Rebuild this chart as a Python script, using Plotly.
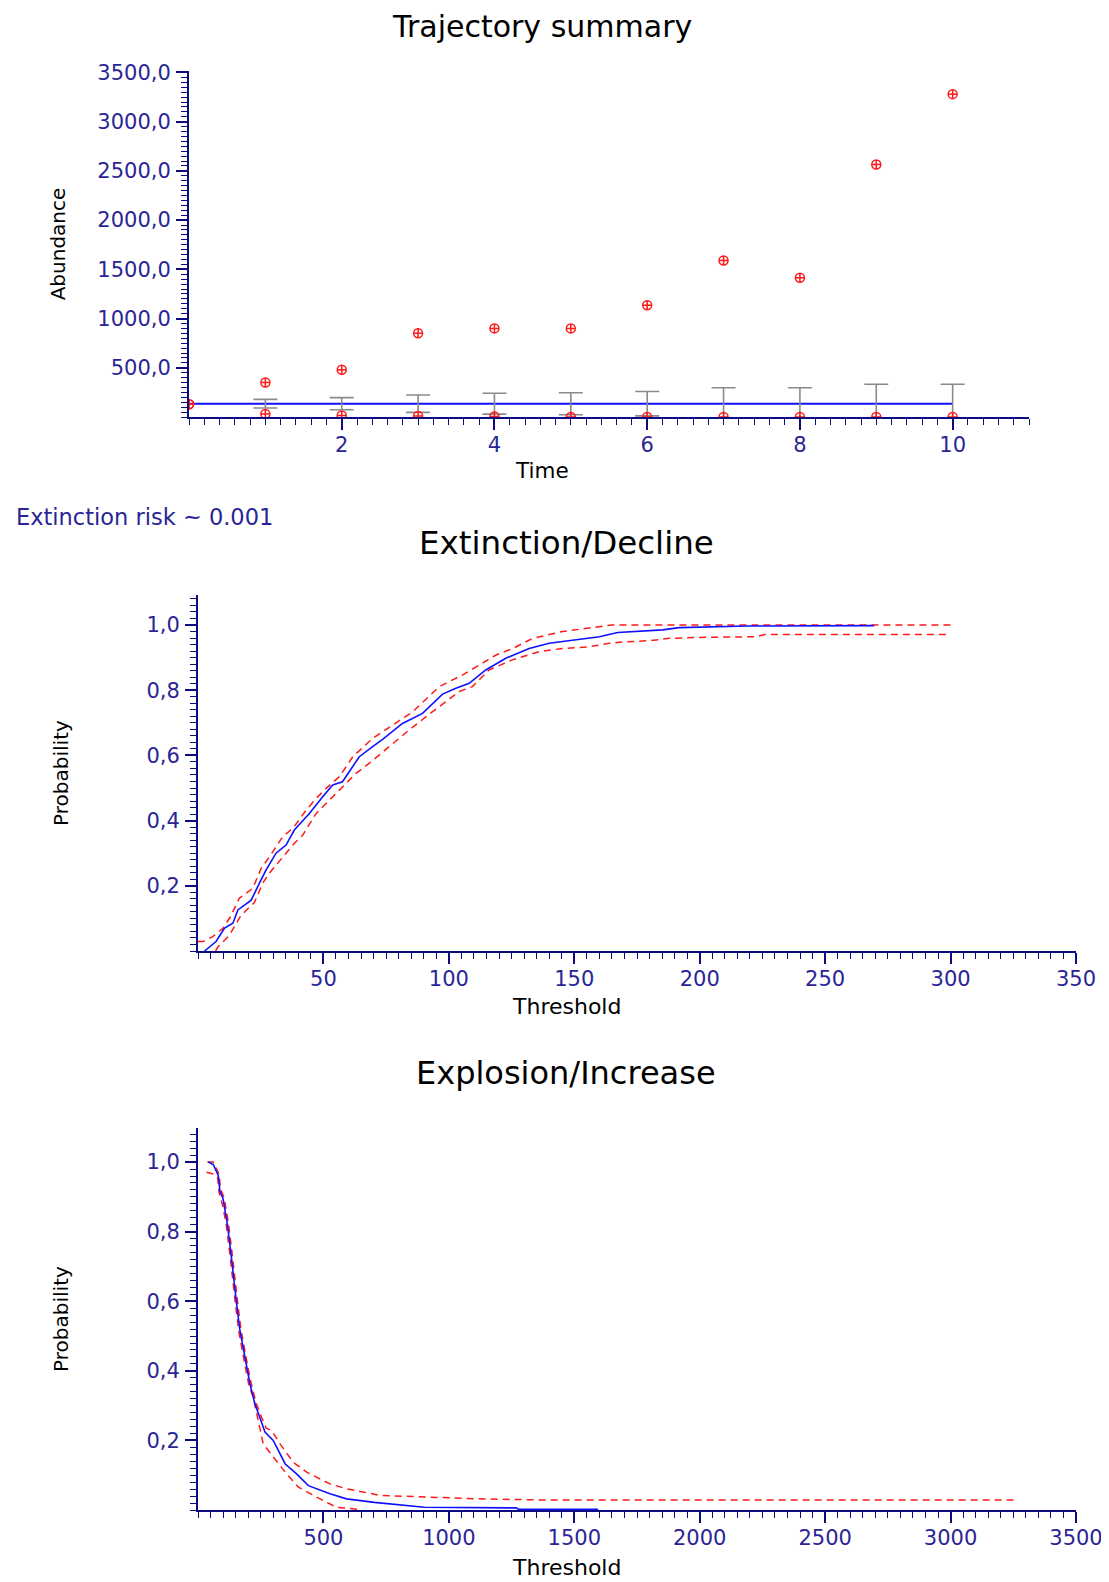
import plotly.graph_objects as go

# ---------------- data ----------------
# Trajectory summary
time = [0, 1, 2, 3, 4, 5, 6, 7, 8, 9, 10]
abund_max = [130, 350, 480, 850, 900, 900, 1135, 1590, 1415, 2565, 3280]
abund_min = [130, 30, 15, 10, 5, 0, 0, 0, 0, 0, 0]
abund_mean = [135, 135, 135, 135, 135, 135, 135, 135, 135, 135, 135]
abund_sd = [0, 44, 62, 88, 106, 112, 124, 162, 162, 197, 197]
traj_xticks = [2, 4, 6, 8, 10]
traj_yticks = [500, 1000, 1500, 2000, 2500, 3000, 3500]
traj_yticktext = ["500,0", "1000,0", "1500,0", "2000,0", "2500,0", "3000,0", "3500,0"]

# Extinction / Decline
dec_thr = [2.6, 7.2, 10.6, 13.9, 15.9, 21.2, 24.5, 27.1, 31.1, 35.1, 38.4, 44.4, 49.7, 53.7, 57.6,
           64.3, 69.6, 73.6, 81.5, 89.5, 97.5, 102.8, 108.1, 114.7, 122.7, 132, 140, 151.9, 160,
           167.3, 179.2, 185.2, 191.8, 219, 269.5]
dec_prob = [0.0, 0.029, 0.07, 0.085, 0.126, 0.156, 0.208, 0.248, 0.30, 0.325, 0.371, 0.422, 0.473,
            0.509, 0.519, 0.596, 0.627, 0.649, 0.698, 0.729, 0.788, 0.806, 0.821, 0.862, 0.898,
            0.928, 0.944, 0.956, 0.964, 0.977, 0.982, 0.985, 0.992, 0.997, 0.998]
dec_up_thr = [0, 2, 5.9, 10, 12.9, 16.5, 21.8, 25.2, 28.5, 33.8, 37.8, 43.1, 47.1, 51.1, 56.4, 61.7,
              69.6, 77.6, 85.6, 96.2, 105.5, 112.1, 118.8, 125.5, 133.4, 145.3, 159.9, 165, 300]
dec_up_prob = [0.029, 0.029, 0.044, 0.07, 0.105, 0.162, 0.192, 0.254, 0.289, 0.351, 0.376, 0.432,
               0.468, 0.499, 0.535, 0.596, 0.652, 0.693, 0.734, 0.811, 0.847, 0.877, 0.908, 0.928,
               0.959, 0.980, 0.995, 1.0, 1.0]
dec_lo_thr = [7, 8, 12.5, 17.1, 22.5, 25.8, 28.5, 35.1, 37.8, 41.8, 47.1, 55.1, 63.0, 68.3, 76.3,
              84.2, 93.5, 98.8, 104.1, 109.4, 116.0, 125.3, 135.9, 145.2, 155.8, 164, 168, 180,
              188, 200, 222.4, 226, 300]
dec_lo_prob = [0.0, 0.013, 0.048, 0.109, 0.149, 0.208, 0.239, 0.300, 0.325, 0.356, 0.422, 0.484,
               0.545, 0.576, 0.627, 0.678, 0.734, 0.765, 0.796, 0.811, 0.862, 0.893, 0.918, 0.928,
               0.933, 0.944, 0.947, 0.952, 0.959, 0.962, 0.964, 0.971, 0.971]
dec_xticks = [50, 100, 150, 200, 250, 300, 350]
prob_yticks = [0.2, 0.4, 0.6, 0.8, 1.0]
prob_yticktext = ["0,2", "0,4", "0,6", "0,8", "1,0"]

# Explosion / Increase
inc_thr = [41, 61, 81, 87, 100, 117, 130, 141, 154, 167, 181, 194, 207, 227, 247, 267, 300, 327,
           347, 393, 440, 526, 592, 703, 822, 902, 1268, 1278, 1595]
inc_prob = [1.0, 0.993, 0.961, 0.918, 0.894, 0.822, 0.746, 0.669, 0.592, 0.516, 0.458, 0.410,
            0.363, 0.305, 0.267, 0.224, 0.200, 0.161, 0.133, 0.104, 0.070, 0.047, 0.032, 0.022,
            0.013, 0.008, 0.006, 0.002, 0.002]
inc_up_thr = [37, 61, 84, 90, 104, 121, 134, 145, 158, 171, 185, 198, 211, 231, 251, 272, 294, 327,
              380, 433, 526, 592, 725, 911, 1124, 1358, 3251]
inc_up_prob = [1.0, 1.0, 0.965, 0.922, 0.898, 0.826, 0.750, 0.673, 0.596, 0.520, 0.462, 0.414,
               0.367, 0.309, 0.271, 0.235, 0.228, 0.190, 0.137, 0.109, 0.075, 0.061, 0.042, 0.037,
               0.032, 0.029, 0.029]
inc_lo_thr = [34, 61, 78, 84, 100, 113, 126, 137, 150, 163, 177, 190, 203, 220, 260, 327, 353, 400,
              446, 499, 552, 639]
inc_lo_prob = [0.971, 0.966, 0.957, 0.914, 0.870, 0.818, 0.742, 0.665, 0.588, 0.512, 0.454,
               0.406, 0.359, 0.324, 0.190, 0.128, 0.104, 0.066, 0.047, 0.027, 0.008, 0.002]
inc_xticks = [500, 1000, 1500, 2000, 2500, 3000, 3500]

# ---------------- style ----------------
W, H = 1109, 1582
OFF = 8  # page body margin
FONT = "DejaVu Sans"
NAVY = "#0c0c80"
TICKC = "#2a2596"
BLUE = "#1010ff"
RED = "#ff1a1a"
DASH = "7px,5px"


def fx(p):
    return (p - OFF) / W


def fy(p):
    return 1 - (p - OFF) / H


def axis_style(**kw):
    d = dict(showline=True, linecolor=NAVY, linewidth=2, ticks="outside", tickcolor=NAVY,
             tickwidth=1.5, ticklen=11, showgrid=False, zeroline=False, automargin=False,
             tickfont=dict(family=FONT, size=21, color=TICKC),
             title_font=dict(family=FONT, size=20, color="#000000"),
             minor=dict(ticks="outside", ticklen=6, tickcolor=NAVY, tickwidth=1.2,
                        showgrid=False, tickmode="linear", tick0=0))
    for k, v in kw.items():
        if k == "minor_dtick":
            d["minor"]["dtick"] = v
        else:
            d[k] = v
    return d


def label(text, x, y, size, color="#000000", xanchor="center"):
    return dict(text=text, x=fx(x), y=fy(y), xref="paper", yref="paper",
                xanchor=xanchor, yanchor="middle", showarrow=False,
                font=dict(family=FONT, size=size, color=color))


fig = go.Figure()

# --- Trajectory summary ---
fig.add_trace(go.Scatter(x=time, y=abund_mean, mode="lines", line=dict(color=BLUE, width=2),
                         xaxis="x", yaxis="y", showlegend=False))
fig.add_trace(go.Scatter(x=time[1:], y=abund_mean[1:], mode="markers",
                         marker=dict(size=1, color="rgba(0,0,0,0)"),
                         error_y=dict(type="data", array=abund_sd[1:], visible=True,
                                      color="#8a8a8a", thickness=1.6, width=12),
                         xaxis="x", yaxis="y", showlegend=False))
fig.add_trace(go.Scatter(x=time, y=abund_max, mode="markers",
                         marker=dict(symbol="circle-cross-open", size=9, color=RED,
                                     line=dict(width=1.5, color=RED)),
                         xaxis="x", yaxis="y", showlegend=False))
fig.add_trace(go.Scatter(x=time, y=abund_min, mode="markers",
                         marker=dict(symbol="circle-cross-open", size=9, color=RED,
                                     line=dict(width=1.5, color=RED)),
                         xaxis="x", yaxis="y", showlegend=False))

# --- Extinction / Decline ---
fig.add_trace(go.Scatter(x=dec_up_thr, y=dec_up_prob, mode="lines",
                         line=dict(color=RED, width=1.5, dash=DASH),
                         xaxis="x2", yaxis="y2", showlegend=False))
fig.add_trace(go.Scatter(x=dec_lo_thr, y=dec_lo_prob, mode="lines",
                         line=dict(color=RED, width=1.5, dash=DASH),
                         xaxis="x2", yaxis="y2", showlegend=False))
fig.add_trace(go.Scatter(x=dec_thr, y=dec_prob, mode="lines", line=dict(color=BLUE, width=1.6),
                         xaxis="x2", yaxis="y2", showlegend=False))

# --- Explosion / Increase ---
fig.add_trace(go.Scatter(x=inc_up_thr, y=inc_up_prob, mode="lines",
                         line=dict(color=RED, width=1.5, dash=DASH),
                         xaxis="x3", yaxis="y3", showlegend=False))
fig.add_trace(go.Scatter(x=inc_lo_thr, y=inc_lo_prob, mode="lines",
                         line=dict(color=RED, width=1.5, dash=DASH),
                         xaxis="x3", yaxis="y3", showlegend=False))
fig.add_trace(go.Scatter(x=inc_thr, y=inc_prob, mode="lines", line=dict(color=BLUE, width=1.6),
                         xaxis="x3", yaxis="y3", showlegend=False))

fig.update_layout(
    width=W, height=H, margin=dict(l=0, r=0, t=0, b=0, autoexpand=False),
    paper_bgcolor="white", plot_bgcolor="white",
    font=dict(family=FONT, color="#000000"),
    xaxis=axis_style(domain=[fx(189), fx(1029)], anchor="y", range=[0, 11],
                     tickmode="array", tickvals=traj_xticks, minor_dtick=0.2,
                     ticklabelstandoff=-3),
    yaxis=axis_style(domain=[fy(417), fy(71)], anchor="x", range=[0, 3515],
                     tickmode="array", tickvals=traj_yticks, ticktext=traj_yticktext,
                     minor_dtick=50, ticklabelstandoff=1,
                     title=dict(text="Abundance", standoff=26)),
    xaxis2=axis_style(domain=[fx(198), fx(1076)], anchor="y2", range=[0, 350],
                      tickmode="array", tickvals=dec_xticks, minor_dtick=5,
                      ticklabelstandoff=-3),
    yaxis2=axis_style(domain=[fy(951), fy(595)], anchor="x2", range=[0, 1.092],
                      tickmode="array", tickvals=prob_yticks, ticktext=prob_yticktext,
                      minor_dtick=0.02, ticklabelstandoff=1,
                      title=dict(text="Probability", standoff=72)),
    xaxis3=axis_style(domain=[fx(198), fx(1076)], anchor="y3", range=[0, 3500],
                      tickmode="array", tickvals=inc_xticks, minor_dtick=50,
                      ticklabelstandoff=-3),
    yaxis3=axis_style(domain=[fy(1510), fy(1128)], anchor="x3", range=[0, 1.098],
                      tickmode="array", tickvals=prob_yticks, ticktext=prob_yticktext,
                      minor_dtick=0.02, ticklabelstandoff=1,
                      title=dict(text="Probability", standoff=72)),
    annotations=[
        label("Trajectory summary", 542, 26, 30),
        label("Time", 542, 470, 21.5),
        label("Extinction risk ~ 0.001", 14, 517, 22.5, color=TICKC, xanchor="left"),
        label("Extinction/Decline", 566, 543, 32.5),
        label("Threshold", 566, 1006, 22),
        label("Explosion/Increase", 566, 1073, 32),
        label("Threshold", 566, 1567, 22),
    ],
)

fig.write_html("out.html")
